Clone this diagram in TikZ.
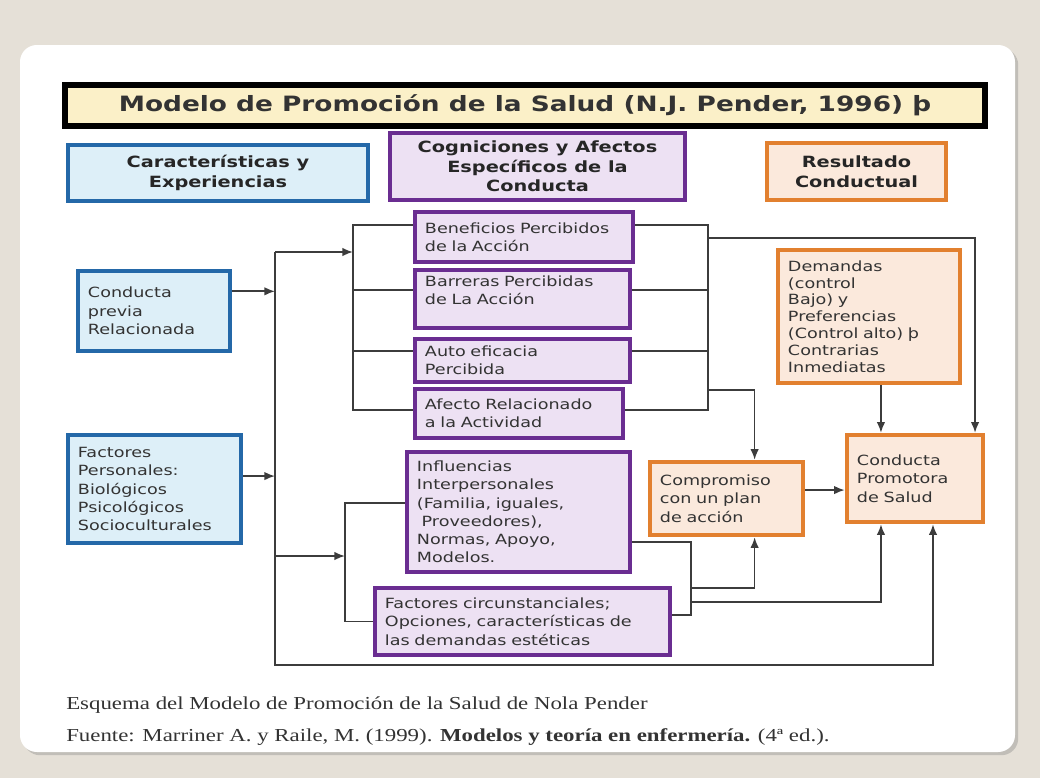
\documentclass[tikz,border=0pt]{standalone}
\usepackage{fontspec}
\setmainfont[FakeStretch=1.25]{Liberation Serif}
\newfontfamily\cajafont[FakeStretch=1.25]{DejaVu Sans}
\usepackage{tikz}
\usetikzlibrary{shapes,positioning,shadows,arrows.meta}
\definecolor{fondo}{HTML}{E5E0D7}
\definecolor{azulB}{HTML}{2468A8}
\definecolor{azulF}{HTML}{DDEFF8}
\definecolor{moraB}{HTML}{6A2D91}
\definecolor{moraF}{HTML}{EDE1F3}
\definecolor{naraB}{HTML}{E2802F}
\definecolor{naraF}{HTML}{FBE9DC}
\definecolor{titF}{HTML}{FBF0C8}
\definecolor{gris}{HTML}{3C3C3C}
\tikzstyle{caja}=[rectangle,draw,line width=3.2pt,inner xsep=0.25cm,inner ysep=3pt,align=left,text=black!80,font=\cajafont\fontsize{10}{13}\selectfont]
\tikzstyle{azul}=[caja,draw=azulB,fill=azulF]
\tikzstyle{mora}=[caja,draw=moraB,fill=moraF]
\tikzstyle{naranja}=[caja,draw=naraB,fill=naraF]
\tikzstyle{cabecera}=[align=center,text=black!85,font=\cajafont\bfseries\fontsize{11}{14}\selectfont]
\tikzstyle{conector}=[draw=gris,line width=1.2pt]
\tikzstyle{flecha}=[conector,-{Latex[length=7.5pt,width=6pt]}]

\begin{document}
\begin{tikzpicture}[x=0.025cm,y=-0.025cm]
        \useasboundingbox (0,0) rectangle (1040,778);
        \fill[fondo] (0,0) rectangle (1040,778);
        \fill[white,rounded corners=12pt,drop shadow={opacity=0.35}] (20,45) rectangle (1015,752);
        % cabeceras
        \node[caja,draw=black,line width=4pt,fill=titF,minimum width=23cm,minimum height=1.025cm,
              font=\cajafont\bfseries\fontsize{15}{18}\selectfont] (titulo) at (525,105.5)
              {Modelo de Promoción de la Salud (N.J. Pender, 1996) þ};
        \node[azul,cabecera,minimum width=7.5cm,minimum height=1.4cm] (cabCar) at (218,173)
              {Características y\\Experiencias};
        \node[mora,cabecera,minimum width=7.375cm,minimum height=1.675cm] (cabCog) at (537.5,166.5)
              {Cogniciones y Afectos\\Específicos de la\\Conducta};
        \node[naranja,cabecera,minimum width=4.475cm,minimum height=1.425cm] (cabRes) at (856.5,171.5)
              {Resultado\\Conductual};
        % caracteristicas
        \node[azul,text width=3.3cm,minimum height=2cm] (conducta) at (154,311)
              {Conducta\\previa\\Relacionada};
        \node[azul,text width=3.825cm,minimum height=2.7cm] (personales) at (154.5,489)
              {Factores\\Personales:\\Biológicos\\Psicológicos\\Socioculturales};
        % cogniciones
        \node[mora,text width=4.95cm,minimum height=1.25cm] (benef) at (524,237)
              {Beneficios Percibidos\\de la Acción};
        \node[mora,text width=4.875cm,minimum height=1.45cm] (barreras) at (522.5,299)
              {Barreras Percibidas\\de La Acción\\\mbox{}};
        \node[mora,text width=4.875cm,minimum height=1.075cm,inner ysep=1pt] (auto) at (522.5,360.5)
              {Auto eficacia\\Percibida};
        \node[mora,text width=4.7cm,minimum height=1.225cm] (afecto) at (519,413.5)
              {Afecto Relacionado\\a la Actividad};
        \node[mora,text width=5.075cm,minimum height=3cm] (influ) at (518.5,512)
              {Influencias\\Interpersonales\\(Familia, iguales,\\\ Proveedores),\\Normas, Apoyo,\\Modelos.};
        \node[mora,text width=6.875cm,minimum height=1.675cm] (circun) at (522.5,621.5)
              {Factores circunstanciales;\\Opciones, características de\\las demandas estéticas};
        % resultado
        \node[naranja,text width=4.05cm,minimum height=3.325cm,font=\cajafont\fontsize{10}{12}\selectfont] (demandas) at (869,316.5)
              {Demandas\\(control\\Bajo) y\\Preferencias\\(Control alto) þ\\Contrarias\\Inmediatas};
        \node[naranja,text width=3.325cm,minimum height=1.825cm] (compromiso) at (726.5,498.5)
              {Compromiso\\con un plan\\de acción};
        \node[naranja,text width=2.9cm,minimum height=2.175cm] (promotora) at (915,478.5)
              {Conducta\\Promotora\\de Salud};
        % conexiones
        \coordinate (bI) at (275,252);
        \coordinate (bF) at (275,665);
        \coordinate (bM) at (353,252);
        \coordinate (bD) at (708,238);
        \coordinate (bC) at (708,390);
        \coordinate (bB) at (345,556);
        \coordinate (bE) at (691,588);
        \coordinate (bG) at (691,602);
        \draw[flecha] ([yshift=14pt]conducta.east) -- ([yshift=14pt]conducta.east -| bI);
        \draw[flecha] ([yshift=9.2pt]personales.east) -- ([yshift=9.2pt]personales.east -| bI);
        \draw[flecha] (bI) -- (bM);
        \draw[flecha] (bI |- bB) -- (bB);
        \draw[flecha] (bI) -- (bF) -| ([xshift=12.8pt]promotora.south);
        \draw[conector] ([yshift=8.5pt]benef.west) -| (bM) |- ([yshift=2.5pt]afecto.west);
        \draw[conector] ([yshift=6.4pt]barreras.west) -- ([yshift=6.4pt]barreras.west -| bM);
        \draw[conector] ([yshift=6.7pt]auto.west) -- ([yshift=6.7pt]auto.west -| bM);
        \draw[conector] ([yshift=8.5pt]benef.east) -| (bD) |- ([yshift=2.5pt]afecto.east);
        \draw[conector] ([yshift=6.4pt]barreras.east) -- ([yshift=6.4pt]barreras.east -| bD);
        \draw[conector] ([yshift=6.7pt]auto.east) -- ([yshift=6.7pt]auto.east -| bD);
        \draw[flecha] (bD) -| ([xshift=42.7pt]promotora.north);
        \draw[flecha] (bC) -| ([xshift=20pt]compromiso.north);
        \draw[flecha] ([xshift=8.5pt]demandas.south) -- ([xshift=8.5pt]demandas.south |- promotora.north);
        \draw[flecha] ([yshift=6pt]compromiso.east) -- ([yshift=6pt]compromiso.east -| promotora.west);
        \draw[conector] ([yshift=6.4pt]influ.west) -| (bB) |- (circun.west);
        \draw[conector] ([yshift=-21.3pt]influ.east) -| (bE) |- ([yshift=4.6pt]circun.east);
        \draw[flecha] (bE) -| ([xshift=20pt]compromiso.south);
        \draw[flecha] (bG) -| ([xshift=-24.2pt]promotora.south);
        % pie
        \node[anchor=west,inner sep=0pt,font=\fontsize{13}{15}\selectfont,text=black!80] (pie1) at (66,705)
              {Esquema del Modelo de Promoción de la Salud de Nola Pender};
        \node[anchor=west,inner sep=0pt,font=\fontsize{13}{15}\selectfont,text=black!80] (pie2) at (66,737)
              {Fuente: Marriner A. y Raile, M. (1999). \textbf{Modelos y teoría en enfermería.} (4ª ed.).};
\end{tikzpicture}
\end{document}
